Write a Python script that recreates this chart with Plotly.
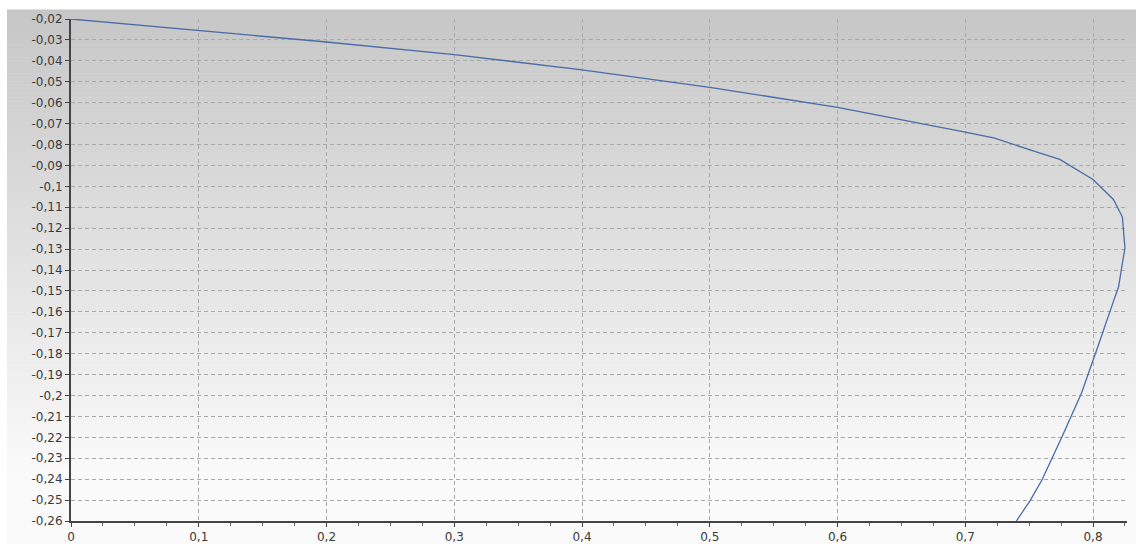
import plotly.graph_objects as go

# ---- data ----
x_vals = [0.0, 0.1, 0.2, 0.3, 0.4, 0.5, 0.6, 0.7, 0.723, 0.758, 0.774, 0.80,
          0.816, 0.823, 0.825, 0.823, 0.820, 0.816, 0.811, 0.803, 0.791,
          0.776, 0.760, 0.751, 0.740]
y_vals = [-0.0200, -0.0255, -0.0310, -0.0370, -0.0443, -0.0527, -0.0622,
          -0.0741, -0.0770, -0.0840, -0.0871, -0.0967, -0.1063, -0.1147,
          -0.1295, -0.1367, -0.1480, -0.1550, -0.1640, -0.1780, -0.1988,
          -0.2194, -0.2404, -0.2500, -0.2600]

x_tick_vals = [0.0, 0.1, 0.2, 0.3, 0.4, 0.5, 0.6, 0.7, 0.8]
x_tick_text = ["0", "0,1", "0,2", "0,3", "0,4", "0,5", "0,6", "0,7", "0,8"]
y_tick_vals = [-0.02, -0.03, -0.04, -0.05, -0.06, -0.07, -0.08, -0.09, -0.10,
               -0.11, -0.12, -0.13, -0.14, -0.15, -0.16, -0.17, -0.18, -0.19,
               -0.20, -0.21, -0.22, -0.23, -0.24, -0.25, -0.26]
y_tick_text = ["-0,02", "-0,03", "-0,04", "-0,05", "-0,06", "-0,07", "-0,08",
               "-0,09", "-0,1", "-0,11", "-0,12", "-0,13", "-0,14", "-0,15",
               "-0,16", "-0,17", "-0,18", "-0,19", "-0,2", "-0,21", "-0,22",
               "-0,23", "-0,24", "-0,25", "-0,26"]

W, H = 1136, 544
ML, MR, MT, MB = 71, 9, 19, 23
PW, PH = W - ML - MR, H - MT - MB

fig = go.Figure()
fig.add_trace(go.Scatter(x=x_vals, y=y_vals, mode="lines",
                         line=dict(color="#4a6ca6", width=1.3),
                         hoverinfo="skip", showlegend=False))

# background vertical gradient (styling only)
shapes = []
top_px, bot_px, left_px = 10, H, 7
n = 134
for i in range(n):
    p0 = top_px + (bot_px - top_px) * i / n
    p1 = top_px + (bot_px - top_px) * (i + 1) / n
    t = (i + 0.5) / n
    t2 = min(1.0, t * 1.15)
    c = int(round(198 + (250 - 198) * t2))
    shapes.append(dict(type="rect", xref="paper", yref="paper", layer="below",
                       x0=(left_px - ML) / PW, x1=(W - ML) / PW + 0.01,
                       y0=(H - MB - p1) / PH, y1=(H - MB - p0) / PH + 0.001,
                       fillcolor=f"rgb({c},{c},{c})", line=dict(width=0)))

fig.update_layout(
    width=W, height=H,
    margin=dict(l=ML, r=MR, t=MT, b=MB, pad=0),
    paper_bgcolor="white",
    plot_bgcolor="rgba(0,0,0,0)",
    shapes=shapes,
    font=dict(family="DejaVu Sans", size=12, color="#3a3a3a"),
    showlegend=False,
)
fig.update_xaxes(
    range=[0, 0.8266], tickmode="array", tickvals=x_tick_vals, ticktext=x_tick_text,
    showgrid=True, gridcolor="#a9a9a9", griddash="4px,3px", gridwidth=1,
    showline=True, linecolor="#444444", linewidth=2,
    ticks="outside", ticklen=4, tickcolor="#444444", tickwidth=1,
    minor=dict(tickmode="linear", tick0=0, dtick=0.025, ticks="outside",
               ticklen=3, tickcolor="#666666", showgrid=False),
    zeroline=False, fixedrange=True, automargin=False,
)
fig.update_yaxes(
    range=[-0.26, -0.02], tickmode="array", tickvals=y_tick_vals, ticktext=y_tick_text,
    showgrid=True, gridcolor="#a9a9a9", griddash="4px,3px", gridwidth=1,
    showline=True, linecolor="#444444", linewidth=2,
    ticks="outside", ticklen=4, tickcolor="#444444", tickwidth=1,
    zeroline=False, fixedrange=True, automargin=False,
)

fig.write_html(
    "out.html",
    config={"displayModeBar": False},
    post_script="document.body.style.margin='0';document.body.style.overflow='hidden';",
)
